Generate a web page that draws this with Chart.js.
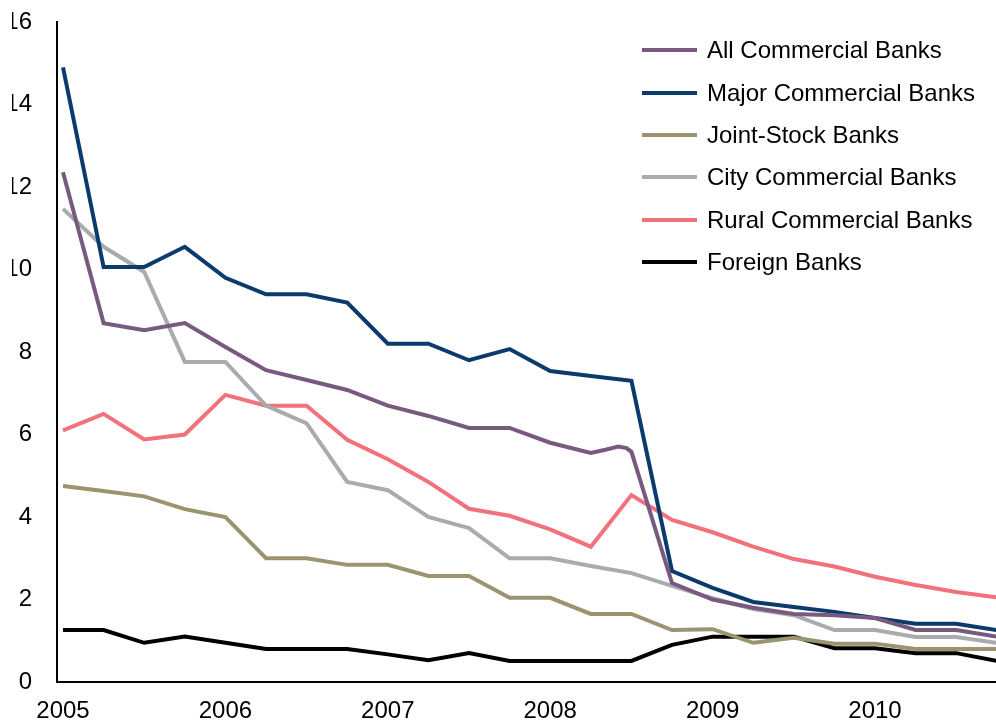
<!DOCTYPE html>
<html><head><meta charset="utf-8">
<script src="https://cdn.jsdelivr.net/npm/chart.js@4.4.1/dist/chart.umd.min.js"></script>
<style>
html,body{margin:0;padding:0;background:#fff;overflow:hidden;width:996px;height:723px;position:relative;}
#wrap{position:absolute;left:12px;top:0;width:984px;height:723px;overflow:hidden;}
#c{position:absolute;left:-12px;top:0;}
#legend{position:absolute;left:642px;top:29px;font:24px "Liberation Sans",Arial,sans-serif;color:#000;}
.item{display:flex;align-items:center;height:42.4px;white-space:nowrap;}
.sw{width:55px;height:4px;margin-right:10px;flex:none;}
</style></head><body>
<div id="wrap"><canvas id="c" width="996" height="723"></canvas></div>
<div id="legend"></div>
<script>
// Quarterly periods
const periods = ['2005Q1','2005Q2','2005Q3','2005Q4','2006Q1','2006Q2','2006Q3','2006Q4',
  '2007Q1','2007Q2','2007Q3','2007Q4','2008Q1','2008Q2','2008Q3','2008Q4',
  '2009Q1','2009Q2','2009Q3','2009Q4','2010Q1','2010Q2','2010Q3','2010Q4'];
const yearTicks = [2005, 2006, 2007, 2008, 2009, 2010];
const yTicks = [0, 2, 4, 6, 8, 10, 12, 14, 16];

const seriesNames = ['All Commercial Banks','Major Commercial Banks','Joint-Stock Banks',
  'City Commercial Banks','Rural Commercial Banks','Foreign Banks'];
const seriesColors = ['#785a7e','#0b3a6c','#9a946f','#aaabae','#f2717a','#000000'];

const allBanks = [12.36,8.7,8.53,8.7,8.12,7.56,7.32,7.08,6.7,6.45,6.16,6.16,5.8,5.55,5.58,2.4,2.0,1.8,1.65,1.62,1.55,1.26,1.26,1.1];
// extra intra-quarter readings of All Commercial Banks during mid-2008
const allBanksExtraX = [2008.34, 2008.42, 2008.47];
const allBanksExtraY = [5.63, 5.71, 5.67];
const majorBanks = [14.9,10.06,10.06,10.55,9.8,9.4,9.4,9.2,8.2,8.2,7.8,8.07,7.54,7.42,7.3,2.69,2.28,1.94,1.82,1.7,1.55,1.41,1.41,1.26];
const jointStock = [4.75,4.63,4.5,4.19,4.0,3.0,3.0,2.84,2.84,2.57,2.57,2.04,2.04,1.65,1.65,1.26,1.28,0.95,1.07,0.93,0.93,0.8,0.8,0.8];
const cityBanks = [11.47,10.55,9.94,7.76,7.76,6.7,6.27,4.85,4.65,4.0,3.73,3.0,3.0,2.81,2.64,2.33,2.03,1.77,1.62,1.26,1.26,1.09,1.09,0.95];
const ruralBanks = [6.1,6.5,5.88,6.0,6.96,6.7,6.7,5.87,5.4,4.85,4.2,4.03,3.7,3.28,4.53,3.93,3.63,3.28,2.98,2.8,2.55,2.35,2.18,2.05];
const foreignBanks = [1.26,1.26,0.95,1.1,0.95,0.8,0.8,0.8,0.67,0.53,0.7,0.51,0.51,0.51,0.51,0.9,1.1,1.1,1.1,0.82,0.82,0.7,0.7,0.51];

const xVals = periods.map(p => parseInt(p.slice(0,4)) + (parseInt(p.slice(5)) - 1) / 4);
function pts(vals){ return vals.map((v,i)=>({x:xVals[i], y:v})); }
const allPts = pts(allBanks).concat(allBanksExtraX.map((x,i)=>({x:x,y:allBanksExtraY[i]}))).sort((a,b)=>a.x-b.x);

const seriesData = [allPts, pts(majorBanks), pts(jointStock), pts(cityBanks), pts(ruralBanks), pts(foreignBanks)];

const FONT = '"Liberation Sans", Arial, sans-serif';
const datasets = seriesNames.map((n,i)=>({
  label:n, data:seriesData[i], borderColor:seriesColors[i], backgroundColor:seriesColors[i],
  borderWidth:4, pointRadius:0, tension:0, fill:false
}));

new Chart(document.getElementById('c'), {
  type:'line',
  data:{datasets},
  options:{
    responsive:false, animation:false, devicePixelRatio:1,
    layout:{padding:{top:22,right:0,bottom:0,left:0}},
    plugins:{legend:{display:false}, tooltip:{enabled:false}},
    scales:{
      x:{type:'linear', min:2004.963, max:2010.745,
        grid:{display:true, drawOnChartArea:false, drawTicks:true, tickLength:15, color:'rgba(0,0,0,0)'},
        border:{display:true, color:'#000', width:2},
        afterBuildTicks:s=>{ s.ticks = yearTicks.map(v=>({value:v})); },
        afterFit:s=>{ s.height = 41; },
        ticks:{color:'#000', font:{family:FONT, size:24}, padding:0, maxRotation:0, autoSkip:false,
          callback:v=>String(v)}
      },
      y:{type:'linear', min:0, max:16,
        grid:{display:true, drawOnChartArea:false, drawTicks:true, tickLength:25, color:'rgba(0,0,0,0)'},
        border:{display:true, color:'#000', width:2},
        afterBuildTicks:s=>{ s.ticks = yTicks.map(v=>({value:v})); },
        afterFit:s=>{ s.width = 57; },
        ticks:{color:'#000', font:{family:FONT, size:24}, padding:0, callback:v=>String(v)}
      }
    }
  }
});

const lg = document.getElementById('legend');
seriesNames.forEach((n,i)=>{
  const it = document.createElement('div'); it.className='item';
  const sw = document.createElement('span'); sw.className='sw'; sw.style.background=seriesColors[i];
  const tx = document.createElement('span'); tx.textContent=n;
  it.appendChild(sw); it.appendChild(tx); lg.appendChild(it);
});
</script>
</body></html>
